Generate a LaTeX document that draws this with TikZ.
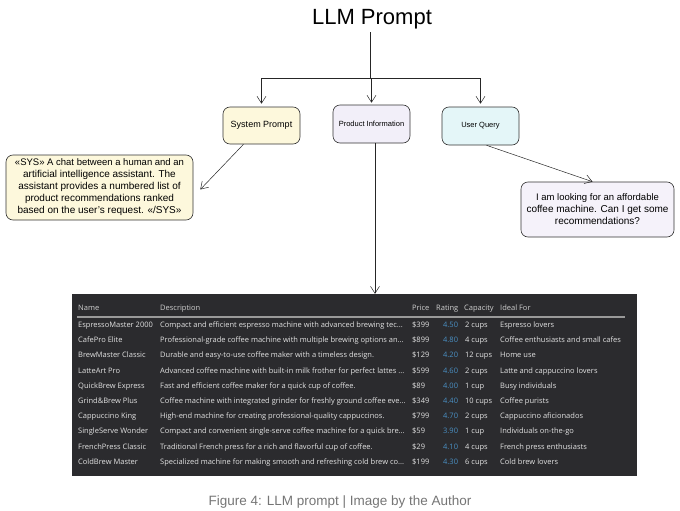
\documentclass[tikz,border=0pt]{standalone}
\usepackage{fontspec}
\setmainfont{Liberation Sans}
\newfontfamily\tablefont{Open Sans}
\usetikzlibrary{arrows.meta, positioning}
\definecolor{sysyellow}{HTML}{FDF8DC}
\definecolor{infolilac}{HTML}{F2EFF9}
\definecolor{querycyan}{HTML}{E4F6F8}
\definecolor{msglilac}{HTML}{F5F2FA}
\definecolor{tabledark}{HTML}{2B2B2E}
\definecolor{cellgray}{HTML}{E2E2E2}
\definecolor{headgray}{HTML}{CFCFCF}
\definecolor{ratingblue}{HTML}{4A90C4}
\definecolor{captiongray}{HTML}{757575}
\newcommand{\more}{...}
\tikzstyle{arrow} = [black!85, line width=0.5pt, -{Straight Barb[length=7pt,width=9pt]}]
\tikzstyle{promptbox} = [draw=black!80, line width=0.6pt, rounded corners=7pt, align=center, inner sep=2pt]
\tikzstyle{cell} = [anchor=base west, inner sep=0pt, text=cellgray, font=\tablefont\fontsize{7.5}{8}\selectfont]

\begin{document}
\begin{tikzpicture}[x=1pt,y=-1pt]
\useasboundingbox (0,0) rectangle (680,511);
\node (title) at (372,19) {\fontsize{22}{24}\selectfont LLM Prompt};
\coordinate (split) at (370,78);
\node[promptbox, fill=sysyellow, minimum width=77pt, minimum height=37pt] (sysprompt) at (261.5,125.5) {\fontsize{9}{11}\selectfont System Prompt};
\node[promptbox, fill=infolilac, minimum width=77pt, minimum height=38pt] (prodinfo) at (371.5,124) {\fontsize{7.5}{9}\selectfont Product Information};
\node[promptbox, fill=querycyan, minimum width=77pt, minimum height=38pt] (userquery) at (480.5,126) {\fontsize{7.5}{9}\selectfont User Query};
\node[promptbox, fill=sysyellow, minimum width=187pt, minimum height=65pt] (sysmsg) at (99.5,187.5) {\fontsize{9.5}{12.5}\selectfont «SYS» A chat between a human and an\\ artificial intelligence assistant. The\\ assistant provides a numbered list of\\ product recommendations ranked\\ based on the user’s request. «/SYS»};
\node[promptbox, fill=msglilac, minimum width=153pt, minimum height=55pt] (usermsg) at (597.5,209.5) {\fontsize{9.5}{12}\selectfont I am looking for an affordable\\ coffee machine. Can I get some\\ recommendations?};
\node[fill=tabledark, minimum width=565pt, minimum height=182pt, inner sep=0pt] (table) at (354.5,385) {};

\draw[black!85, line width=0.5pt] (title.south -| split) -- (split);
\draw[arrow, shorten >=3pt] (split) -| (sysprompt.north);
\draw[arrow, shorten >=2pt] (split) -- (split -| prodinfo.north) -- (prodinfo.north);
\draw[arrow, shorten >=3pt] (split) -| (userquery.north);
\draw[arrow] ([xshift=-18pt]sysprompt.south) -- ([xshift=7pt,yshift=-2pt]sysmsg.east);
\draw[arrow] ([xshift=6pt]userquery.south) -- ([xshift=-5pt]usermsg.north);
\draw[arrow] ([xshift=3.5pt]prodinfo.south) -- ([xshift=3.5pt]prodinfo.south |- table.north);

\node[cell, text=headgray] (hname) at (78,310.5) {Name};
\node[cell, text=headgray] (hdesc) at (160,310.5) {Description};
\node[cell, text=headgray] (hprice) at (412,310.5) {Price};
\node[cell, text=headgray] (hrate) at (436,310.5) {Rating};
\node[cell, text=headgray] (hcap) at (464,310.5) {Capacity};
\node[cell, text=headgray] (hideal) at (500,310.5) {Ideal For};
\draw[gray!80, line width=1.1pt] (77,317) -- (625,317);

\foreach \nm/\desc/\price/\rate/\cups/\ideal [count=\i] in {
  EspressoMaster 2000/Compact and efficient espresso machine with advanced brewing tec\more/\$399/4.50/2 cups/Espresso lovers,
  CafePro Elite/Professional-grade coffee machine with multiple brewing options an\more/\$899/4.80/4 cups/Coffee enthusiasts and small cafes,
  BrewMaster Classic/Durable and easy-to-use coffee maker with a timeless design./\$129/4.20/12 cups/Home use,
  LatteArt Pro/Advanced coffee machine with built-in milk frother for perfect lattes \more/\$599/4.60/2 cups/Latte and cappuccino lovers,
  QuickBrew Express/Fast and efficient coffee maker for a quick cup of coffee./\$89/4.00/1 cup/Busy individuals,
  Grind\&Brew Plus/Coffee machine with integrated grinder for freshly ground coffee eve\more/\$349/4.40/10 cups/Coffee purists,
  Cappuccino King/High-end machine for creating professional-quality cappuccinos./\$799/4.70/2 cups/Cappuccino aficionados,
  SingleServe Wonder/Compact and convenient single-serve coffee machine for a quick bre\more/\$59/3.90/1 cup/Individuals on-the-go,
  FrenchPress Classic/Traditional French press for a rich and flavorful cup of coffee./\$29/4.10/4 cups/French press enthusiasts,
  ColdBrew Master/Specialized machine for making smooth and refreshing cold brew co\more/\$199/4.30/6 cups/Cold brew lovers} {
    \node[cell] (name\i) at (78,{327.5+15.2*(\i-1)}) {\nm};
    \node[cell] (desc\i) at (160,{327.5+15.2*(\i-1)}) {\desc};
    \node[cell] (price\i) at (412,{327.5+15.2*(\i-1)}) {\price};
    \node[cell, text=ratingblue] (rate\i) at (443,{327.5+15.2*(\i-1)}) {\rate};
    \node[cell] (cups\i) at (465,{327.5+15.2*(\i-1)}) {\cups};
    \node[cell] (ideal\i) at (500,{327.5+15.2*(\i-1)}) {\ideal};
}

\node[text=captiongray] (caption) at (340,502) {\fontsize{13.5}{15}\selectfont Figure 4: LLM prompt | Image by the Author};
\end{tikzpicture}
\end{document}
